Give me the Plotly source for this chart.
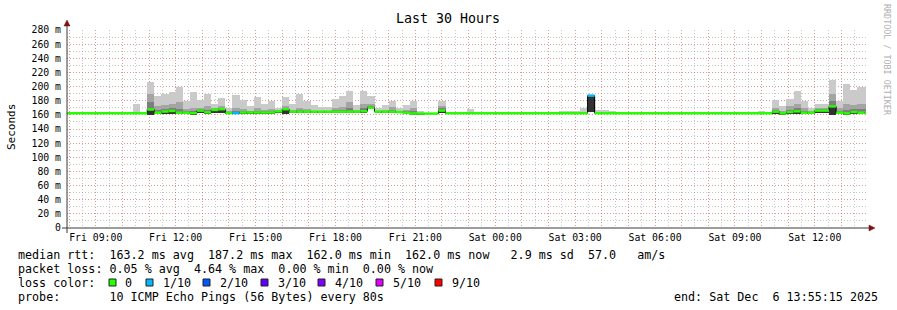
import plotly.graph_objects as go
import pandas as pd

# ---------------- data ----------------
title_text = "Last 30 Hours"
y_label = "Seconds"
range_start = "2025-12-05 07:55:15"
range_end = "2025-12-06 13:55:15"
bin_start = "2025-12-05 07:44:00"
bin_minutes = 16

# median rtt per 16-minute bin (ms)
median_ms = [
    162.3, 162.3, 162.3, 162.3, 162.3, 162.3, 162.3, 162.3, 162.3, 162.3, 162.3, 162.3,
    167.5, 163.0, 164.7, 165.5, 163.0, 163.0, 162.3, 166.0, 163.5, 167.0, 168.0, 162.5,
    162.5, 163.3, 163.3, 163.3, 163.3, 163.3, 165.0, 168.0, 164.5, 164.5, 164.5, 164.5,
    164.5, 164.5, 164.5, 164.5, 164.5, 164.5, 165.0, 170.0, 164.5, 164.5, 164.5, 164.0,
    163.0, 161.8, 161.8, 161.8, 161.8, 166.0,
    162.3, 162.3, 162.3, 162.3, 162.3, 162.3, 162.3, 162.3, 162.3, 162.3,
    162.3, 162.3, 162.3, 162.3, 162.3, 162.3, 162.3, 162.3, 162.3, 162.3,
    187.2,
    162.3, 162.3, 162.3, 162.3, 162.3, 162.3, 162.3, 162.3, 162.3, 162.3,
    162.3, 162.3, 162.3, 162.3, 162.3, 162.3, 162.3, 162.3, 162.3, 162.3,
    162.3, 162.3, 162.3, 162.3, 162.3,
    164.5, 162.0, 164.0, 165.0, 163.0, 163.0, 166.0, 166.0, 172.0, 163.0, 162.0, 164.0,
    163.0, 163.0,
]

# bins with packet loss (index into median_ms) and lost pings out of 10
loss_bins = [24, 74]
loss_counts = [1, 1]

# smoke (distribution of the 10 pings) for bins that show it
smoke_bins = [10, 12, 13, 14, 15, 16, 17, 18, 19, 20, 21, 22, 23, 24, 25, 26, 27, 28, 29, 30,
              31, 32, 33, 34, 35, 36, 37, 38, 39, 40, 41, 42, 43, 44, 45, 46, 47, 48, 49, 50,
              53, 57, 59, 70, 71, 72, 73, 74, 75, 76, 77, 98,
              100, 101, 102, 103, 104, 105, 106, 107, 108, 109, 110, 111, 112, 113]
smoke_max = [176, 207, 186, 189, 193, 199, 180, 193, 181, 189, 175, 184, 170, 188, 181, 172, 185, 176, 179, 170,
             185, 175, 189, 179, 174, 171, 171, 183, 187, 194, 174, 194, 187, 169, 174, 180, 169, 174, 180, 165,
             180, 168, 164.5, 165.5, 165.5, 165.5, 169, 187.2, 167, 167, 165, 165,
             181, 172, 183, 194, 180, 170, 176, 176, 209, 180, 203, 195, 200, 201]
smoke_p9 = [162.3, 190, 172, 174, 176, 178, 168, 170, 170, 172, 170, 172, 165, 170, 168, 166, 169, 167, 168, 167,
            172, 167, 170, 168, 166, 166, 166, 170, 171, 178, 167, 176, 176, 166, 167, 171, 166, 167, 170, 163,
            172, 162.3, 162.3, 162.3, 162.3, 162.3, 162.3, 187.2, 162.3, 162.3, 162.3, 162.3,
            170, 165, 172, 176, 170, 166, 170, 170, 190, 170, 176, 174, 176, 176]
smoke_p7 = [162.3, 178, 167, 168, 170, 168, 165, 165, 168, 167, 168, 170, 164, 166, 165, 165, 166, 165, 165.5, 166,
            170, 166, 167, 166, 165.5, 165.5, 165.5, 167, 167, 170, 166, 170, 173, 165.5, 166, 167, 165, 165, 165, 162.5,
            169, 162.3, 162.3, 162.3, 162.3, 162.3, 162.3, 187.2, 162.3, 162.3, 162.3, 162.3,
            166.5, 163, 167, 169, 166, 164.5, 168, 168, 180, 166, 167, 168, 168, 168]
smoke_min = [162.3, 160.5, 162, 162.5, 161, 162, 162, 161, 163, 162, 163, 162, 162, 162, 162.5, 162.5, 162.5, 162.5, 162.5, 163.5,
             161, 163.5, 163.5, 163.5, 163.5, 163.5, 163.5, 163.5, 163.5, 163.5, 163.5, 163.5, 168.5, 163.5, 163.5, 163.5, 163, 162, 161, 161,
             162.5, 162.3, 162.3, 162.3, 162.3, 162.3, 162.3, 164.5, 162.3, 162.3, 162.3, 162.3,
             162.5, 160.5, 162.5, 162.5, 162.5, 162.5, 162.5, 162.5, 160, 162.5, 161, 162.5, 162.5, 162.5]

y_tick_vals = [0, 20, 40, 60, 80, 100, 120, 140, 160, 180, 200, 220, 240, 260, 280]
y_tick_labels = ["0", "20 m", "40 m", "60 m", "80 m", "100 m", "120 m", "140 m", "160 m",
                 "180 m", "200 m", "220 m", "240 m", "260 m", "280 m"]
x_tick_times = ["2025-12-05 09:00", "2025-12-05 12:00", "2025-12-05 15:00", "2025-12-05 18:00",
                "2025-12-05 21:00", "2025-12-06 00:00", "2025-12-06 03:00", "2025-12-06 06:00",
                "2025-12-06 09:00", "2025-12-06 12:00"]
x_tick_labels = ["Fri 09:00", "Fri 12:00", "Fri 15:00", "Fri 18:00", "Fri 21:00",
                 "Sat 00:00", "Sat 03:00", "Sat 06:00", "Sat 09:00", "Sat 12:00"]

legend_line1 = "median rtt:  163.2 ms avg  187.2 ms max  162.0 ms min  162.0 ms now   2.9 ms sd  57.0   am/s"
legend_line2 = "packet loss: 0.05 % avg  4.64 % max  0.00 % min  0.00 % now"
legend_line3 = "loss color:"
legend_line4 = "probe:       10 ICMP Echo Pings (56 Bytes) every 80s"
end_text = "end: Sat Dec  6 13:55:15 2025"
watermark = "RRDTOOL / TOBI OETIKER"
loss_labels = ["0", "1/10", "2/10", "3/10", "4/10", "5/10", "9/10"]
loss_colors = ["#26ff00", "#00b8ff", "#0059ff", "#5e00ff", "#7e00ff", "#dd00ff", "#ff0000"]
loss_color_by_count = {0: "#26ff00", 1: "#00b8ff", 2: "#0059ff", 3: "#5e00ff",
                       4: "#7e00ff", 5: "#dd00ff", 9: "#ff0000"}

# ---------------- layout constants (pixels) ----------------
W, H = 897, 310
PL, PR, PT, PB = 67, 866, 30, 228
MONO = "DejaVu Sans Mono"


def fx(px):
    return (px - PL) / (PR - PL)


def fy(py):
    return (PB - py) / (PB - PT)


def nb(s):
    return s.replace(" ", "\u00a0")


t0 = pd.Timestamp(bin_start)
step = pd.Timedelta(minutes=bin_minutes)
starts = [t0 + step * i for i in range(len(median_ms))]
ends = [s + step for s in starts]
width_ms = bin_minutes * 60 * 1000

fig = go.Figure()

sx = [starts[i] for i in smoke_bins]
smoke_med = [median_ms[i] for i in smoke_bins]


def add_layer(top, color):
    fig.add_trace(go.Bar(
        x=sx, base=smoke_min, y=[max(t - b, 0) for t, b in zip(top, smoke_min)],
        width=width_ms, offset=0, marker=dict(color=color, line=dict(width=0)),
        hoverinfo="skip", showlegend=False))


add_layer(smoke_max, "#cacaca")
add_layer(smoke_p9, "#a4a4a4")
add_layer(smoke_p7, "#7e7e7e")
add_layer(smoke_med, "#323232")

# median step line (black connectors)
fig.add_trace(go.Scatter(
    x=starts + [ends[-1]], y=median_ms + [median_ms[-1]], mode="lines",
    line=dict(color="#000000", width=1, shape="hv"), hoverinfo="skip", showlegend=False))

# coloured median segments by loss
loss_of_bin = {b: c for b, c in zip(loss_bins, loss_counts)}
groups = {}
for i, m in enumerate(median_ms):
    c = loss_color_by_count[loss_of_bin.get(i, 0)]
    gx, gy = groups.setdefault(c, ([], []))
    gx += [starts[i], ends[i], None]
    gy += [m, m, None]
for c, (gx, gy) in groups.items():
    fig.add_trace(go.Scatter(x=gx, y=gy, mode="lines", line=dict(color=c, width=2.5),
                             hoverinfo="skip", showlegend=False))

# ticks
hourly = list(pd.date_range("2025-12-05 08:00", "2025-12-06 13:00", freq="1h"))
lab = {pd.Timestamp(t): l for t, l in zip(x_tick_times, x_tick_labels)}
tick_text = [lab.get(h, "") for h in hourly]

major_grid = "rgba(255,60,60,0.33)"
minor_grid = "rgba(0,0,0,0.22)"

fig.update_layout(
    width=W, height=H, autosize=False,
    margin=dict(l=PL, r=W - PR, t=PT, b=H - PB),
    paper_bgcolor="#ffffff", plot_bgcolor="#ffffff",
    barmode="overlay", bargap=0, showlegend=False,
    font=dict(family=MONO, color="#000000"),
    xaxis=dict(
        type="date", range=[range_start, range_end],
        tickmode="array", tickvals=hourly, ticktext=tick_text,
        showgrid=True, gridcolor=major_grid, griddash="1px,2px", gridwidth=1,
        minor=dict(dtick=30 * 60 * 1000, tick0="2025-12-05 00:00", showgrid=True,
                   gridcolor=minor_grid, griddash="1px,2px", gridwidth=1, ticks=""),
        ticks="", showline=False, zeroline=False, ticklabelstandoff=2,
        tickfont=dict(family=MONO, size=9.8, color="#000000"),
    ),
    yaxis=dict(
        range=[0, 280], tickmode="array", tickvals=y_tick_vals, ticktext=y_tick_labels,
        showgrid=True, gridcolor=major_grid, griddash="1px,2px", gridwidth=1,
        minor=dict(tickmode="linear", tick0=0, dtick=10, showgrid=True,
                   gridcolor=minor_grid, griddash="1px,2px", gridwidth=1, ticks=""),
        ticks="", showline=False, zeroline=False, ticklabelstandoff=5,
        tickfont=dict(family=MONO, size=9.8, color="#000000"),
    ),
)

shapes = []
axis_col = "#3a3a3a"
arrow_col = "#7a1515"
shapes.append(dict(type="line", xref="paper", yref="paper", x0=fx(67), x1=fx(67), y0=fy(233), y1=fy(22),
                   line=dict(color=axis_col, width=1)))
shapes.append(dict(type="line", xref="paper", yref="paper", x0=fx(62), x1=fx(870), y0=fy(228), y1=fy(228),
                   line=dict(color=axis_col, width=1)))
shapes.append(dict(type="path", xref="paper", yref="paper",
                   path=f"M {fx(64)} {fy(26)} L {fx(70)} {fy(26)} L {fx(67)} {fy(20)} Z",
                   fillcolor=arrow_col, line=dict(color=arrow_col, width=0.5)))
shapes.append(dict(type="path", xref="paper", yref="paper",
                   path=f"M {fx(869)} {fy(225)} L {fx(869)} {fy(231)} L {fx(875)} {fy(228)} Z",
                   fillcolor=arrow_col, line=dict(color=arrow_col, width=0.5)))

box_x = [109, 146, 203, 261, 318, 376, 435]
text_x = [123, 161, 218, 276, 333, 391, 450]
for bx, c in zip(box_x, loss_colors):
    shapes.append(dict(type="rect", xref="paper", yref="paper",
                       x0=fx(bx), x1=fx(bx + 7), y0=fy(279), y1=fy(286),
                       fillcolor=c, line=dict(color="#202020", width=1)))
fig.update_layout(shapes=shapes)

ann = []
LEG = 11.7
ann.append(dict(text=nb(title_text), x=fx(448), y=fy(19), xref="paper", yref="paper",
                showarrow=False, xanchor="center", yanchor="middle",
                font=dict(family=MONO, size=13.3, color="#000000")))
ann.append(dict(text=nb(y_label), x=fx(11), y=fy(127), xref="paper", yref="paper",
                showarrow=False, xanchor="center", yanchor="middle", textangle=-90,
                font=dict(family=MONO, size=11, color="#000000")))
ann.append(dict(text=nb(watermark), x=fx(887), y=fy(60), xref="paper", yref="paper",
                showarrow=False, xanchor="center", yanchor="middle", textangle=90,
                font=dict(family=MONO, size=8.4, color="#b0b0b0")))
for line, py in [(legend_line1, 254.5), (legend_line2, 268.5), (legend_line3, 282.5), (legend_line4, 296.5)]:
    ann.append(dict(text=nb(line), x=fx(16), y=fy(py), xref="paper", yref="paper",
                    showarrow=False, xanchor="left", yanchor="middle",
                    font=dict(family=MONO, size=LEG, color="#000000")))
for tx, l in zip(text_x, loss_labels):
    ann.append(dict(text=nb(l), x=fx(tx), y=fy(282.5), xref="paper", yref="paper",
                    showarrow=False, xanchor="left", yanchor="middle",
                    font=dict(family=MONO, size=LEG, color="#000000")))
ann.append(dict(text=nb(end_text), x=fx(880), y=fy(296.5), xref="paper", yref="paper",
                showarrow=False, xanchor="right", yanchor="middle",
                font=dict(family=MONO, size=LEG, color="#000000")))
fig.update_layout(annotations=ann)

fig.write_html("out.html")
